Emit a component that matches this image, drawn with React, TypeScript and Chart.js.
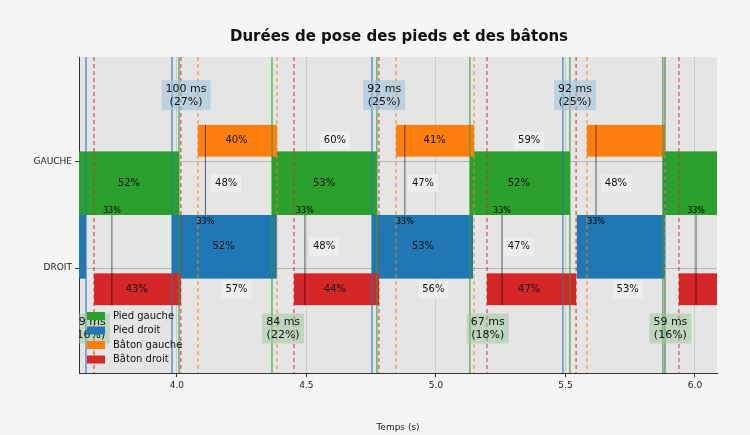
import React, { useEffect, useRef } from "react";
import { Chart, registerables } from "chart.js";
Chart.register(...registerables);

const X_MIN = 3.622, X_MAX = 6.085;
const xTicks = [4.0, 4.5, 5.0, 5.5, 6.0];
const rowLabels = ["DROIT", "GAUCHE"];
// [start, end]
const piedGauche = [[3.622, 4.008], [4.367, 4.772], [5.131, 5.517], [5.876, 6.085]];
const piedDroit = [[3.622, 3.649], [3.981, 4.386], [4.753, 5.143], [5.544, 5.884]];
const batonGauche = [[4.081, 4.386], [4.846, 5.147], [5.583, 5.884]];
const batonDroit = [[3.68, 4.015], [4.452, 4.78], [5.197, 5.541], [5.938, 6.085]];
const vlinesPG = [4.008, 4.367, 4.772, 5.131, 5.517, 5.876];
const vlinesPD = [3.649, 3.981, 4.753, 5.49, 5.884];
const vlinesBG = [4.081, 4.386, 4.846, 5.147, 5.583, 5.884];
const vlinesBD = [3.68, 4.015, 4.452, 4.78, 5.197, 5.541, 5.938];
// [x, y, text, boxed]
const pctLabels: [number, number, string, boolean][] = [
  [3.815, 0.8, "52%", false], [4.19, 0.8, "48%", true], [4.568, 0.8, "53%", false],
  [4.95, 0.8, "47%", true], [5.32, 0.8, "52%", false], [5.695, 0.8, "48%", true],
  [4.18, 0.2, "52%", false], [4.568, 0.2, "48%", true], [4.95, 0.2, "53%", false], [5.32, 0.2, "47%", true],
  [4.23, 1.2, "40%", false], [4.61, 1.2, "60%", true], [4.995, 1.2, "41%", false], [5.36, 1.2, "59%", true],
  [3.845, -0.2, "43%", false], [4.23, -0.2, "57%", true], [4.61, -0.2, "44%", false],
  [4.99, -0.2, "56%", true], [5.36, -0.2, "47%", false], [5.74, -0.2, "53%", true],
];
// [x, upper(true)=orange->green bottom / lower=blue top->red bottom]
const smallMarks: [number, boolean][] = [
  [3.749, false], [4.11, true], [4.494, false], [4.88, true], [5.255, false], [5.618, true], [6.004, false],
];
const doubleSupport: [number, number, string, string][] = [
  [4.035, 1.63, "100 ms", "(27%)"], [4.80, 1.63, "92 ms", "(25%)"], [5.537, 1.63, "92 ms", "(25%)"],
  [3.66, -0.57, "59 ms", "(16%)"], [4.41, -0.57, "84 ms", "(22%)"], [5.2, -0.57, "67 ms", "(18%)"], [5.905, -0.57, "59 ms", "(16%)"],
];
const legendItems: [string, string][] = [
  ["Pied gauche", "#2ca02c"], ["Pied droit", "#1f77b4"], ["Bâton gauche", "#ff7f0e"], ["Bâton droit", "#d62728"],
];

const FONT = "'DejaVu Sans', sans-serif";

const drawPlugin = {
  id: "gait",
  beforeDraw(chart: any) {
    const { ctx, chartArea: a } = chart;
    ctx.save();
    ctx.fillStyle = "#f5f5f5";
    ctx.fillRect(0, 0, chart.width, chart.height);
    ctx.fillStyle = "#e5e5e5";
    ctx.fillRect(a.left, a.top, a.right - a.left, a.bottom - a.top);
    ctx.restore();
  },
  afterDatasetsDraw(chart: any) {
    const { ctx, chartArea: a } = chart;
    const xs = chart.scales.x, ys = chart.scales.y;
    const X = (v: number) => xs.getPixelForValue(v);
    const Y = (v: number) => ys.getPixelForValue(v);
    ctx.save();
    ctx.beginPath();
    ctx.rect(a.left, a.top, a.right - a.left, a.bottom - a.top);
    ctx.clip();
    const rects = (list: number[][], y0: number, y1: number, c: string) => {
      ctx.fillStyle = c;
      list.forEach(([s, e]) => ctx.fillRect(X(s), Y(y1), X(e) - X(s), Y(y0) - Y(y1)));
    };
    rects(piedGauche, 0.5, 1.1, "#2ca02c");
    rects(piedDroit, -0.1, 0.5, "#1f77b4");
    rects(batonGauche, 1.05, 1.35, "#ff7f0e");
    rects(batonDroit, -0.35, -0.05, "#d62728");
    const vl = (list: number[], c: string, dash: number[], w: number) => {
      ctx.strokeStyle = c; ctx.lineWidth = w; ctx.setLineDash(dash);
      list.forEach((v) => { ctx.beginPath(); ctx.moveTo(X(v), a.top); ctx.lineTo(X(v), a.bottom); ctx.stroke(); });
    };
    vl(vlinesPG, "rgba(44,160,44,0.7)", [], 1.5);
    vl(vlinesPD, "rgba(31,119,180,0.7)", [], 1.5);
    vl(vlinesBG, "rgba(255,127,14,0.8)", [4, 3], 1.2);
    vl(vlinesBD, "rgba(214,39,40,0.8)", [4, 3], 1.2);
    ctx.setLineDash([]);
    // small marks
    ctx.font = `8px ${FONT}`;
    ctx.textAlign = "center"; ctx.textBaseline = "middle";
    smallMarks.forEach(([x, upper]) => {
      ctx.strokeStyle = "rgba(0,0,0,0.6)"; ctx.lineWidth = 1;
      ctx.beginPath();
      if (upper) { ctx.moveTo(X(x), Y(1.35)); ctx.lineTo(X(x), Y(0.5)); }
      else { ctx.moveTo(X(x), Y(0.5)); ctx.lineTo(X(x), Y(-0.35)); }
      ctx.stroke();
      ctx.fillStyle = "#000";
      ctx.fillText("33%", X(x), upper ? Y(0.5) + 7 : Y(0.5) - 4);
    });
    // pct labels
    ctx.font = `10px ${FONT}`;
    pctLabels.forEach(([x, y, t, boxed]) => {
      const px = X(x), py = Y(y);
      if (boxed) {
        const w = ctx.measureText(t).width + 8;
        ctx.fillStyle = "rgba(240,240,240,0.85)";
        ctx.fillRect(px - w / 2, py - 9, w, 18);
      }
      ctx.fillStyle = "#111";
      ctx.fillText(t, px, py);
    });
    // double support boxes
    ctx.font = `11px ${FONT}`;
    doubleSupport.forEach(([x, y, l1, l2]) => {
      const px = X(x), py = Y(y);
      const w = Math.max(ctx.measureText(l1).width, ctx.measureText(l2).width) + 8;
      ctx.fillStyle = y > 0 ? "rgba(160,195,220,0.6)" : "rgba(150,200,150,0.5)";
      ctx.fillRect(px - w / 2, py - 15, w, 30);
      ctx.fillStyle = "#111";
      ctx.fillText(l1, px, py - 6);
      ctx.fillText(l2, px, py + 7);
    });
    ctx.restore();
    // legend
    ctx.save();
    ctx.font = `10px ${FONT}`;
    ctx.textAlign = "left"; ctx.textBaseline = "middle";
    legendItems.forEach(([t, c], i) => {
      const ly = a.bottom - 57 + i * 14.5;
      ctx.fillStyle = c;
      ctx.fillRect(a.left + 8, ly - 4, 18, 8);
      ctx.fillStyle = "#111";
      ctx.fillText(t, a.left + 34, ly);
    });
    // title
    ctx.font = `bold 15px ${FONT}`;
    ctx.textAlign = "center";
    ctx.fillStyle = "#111";
    ctx.fillText("Durées de pose des pieds et des bâtons", (a.left + a.right) / 2 + 1, 37);
    ctx.restore();
  },
};

export default function App() {
  const ref = useRef<HTMLCanvasElement>(null);
  useEffect(() => {
    document.body.style.margin = "0";
    const chart = new Chart(ref.current!, {
      type: "scatter",
      data: { datasets: [{ data: [], showLine: false }] },
      options: {
        animation: false,
        responsive: false,
        layout: { padding: { top: 57, right: 33, left: 0, bottom: 0 } },
        plugins: { legend: { display: false }, tooltip: { enabled: false } },
        scales: {
          x: {
            min: X_MIN, max: X_MAX,
            afterBuildTicks: (s: any) => { s.ticks = xTicks.map((v) => ({ value: v })); },
            afterFit: (s: any) => { s.height = 62; },
            ticks: { color: "#222", font: { family: "DejaVu Sans", size: 9 }, callback: (v: any) => Number(v).toFixed(1) },
            grid: { color: "rgba(200,200,200,0.9)", drawTicks: true, tickColor: "#333", tickLength: 4 },
            border: { color: "#333", dash: [] },
            title: { display: true, text: "Temps (s)", color: "#222", font: { family: "DejaVu Sans", size: 9 }, padding: 2 },
          },
          y: {
            min: -0.99, max: 1.99,
            afterBuildTicks: (s: any) => { s.ticks = [{ value: 0 }, { value: 1 }]; },
            afterFit: (s: any) => { s.width = 79; },
            ticks: { color: "#222", font: { family: "DejaVu Sans", size: 9 }, callback: (v: any) => rowLabels[Number(v)] },
            grid: { color: "rgba(170,170,170,0.8)", tickColor: "#333", tickLength: 4 },
            border: { color: "#333" },
          },
        },
      },
      plugins: [drawPlugin],
    } as any);
    return () => chart.destroy();
  }, []);
  return <canvas ref={ref} width={750} height={435} style={{ display: "block" }} />;
}
